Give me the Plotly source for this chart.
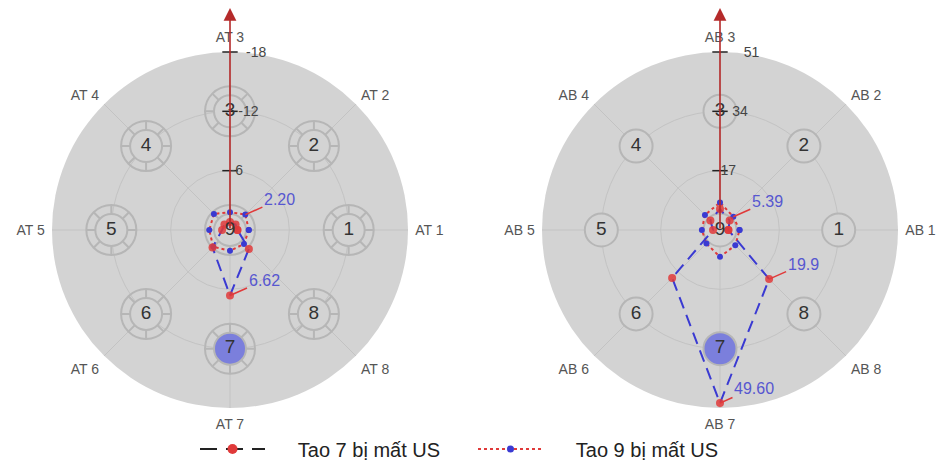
import numpy as np
import plotly.graph_objects as go

# ---------------- data ----------------
cats_left = ["AT 1", "AT 2", "AT 3", "AT 4", "AT 5", "AT 6", "AT 7", "AT 8"]
cats_right = ["AB 1", "AB 2", "AB 3", "AB 4", "AB 5", "AB 6", "AB 7", "AB 8"]

tao7_left = [0.75, 0.8, 0.8, 0.8, 0.8, 2.5, 6.62, 2.7]
tao9_left = [1.9, 2.2, 1.8, 2.3, 2.1, 2.4, 2.1, 2.0]
tao7_right = [2.4, 3.9, 6.0, 3.9, 2.0, 19.4, 49.60, 19.9]
tao9_right = [5.6, 5.39, 7.9, 6.1, 5.2, 5.5, 7.7, 6.2]

ticks_left = [6, 12, 18]
ticktext_left = ["-6", "-12", "-18"]
ticks_right = [17, 34, 51]
ticktext_right = ["17", "34", "51"]

sensor_labels = ["1", "2", "3", "4", "5", "6", "7", "8"]
center_label = "9"
sensor_r_left = 12
sensor_r_right = 34
highlight_sensor = "7"

# (series, index, text)
labels_left = [("tao9", 1, "2.20"), ("tao7", 6, "6.62")]
labels_right = [("tao9", 1, "5.39"), ("tao7", 7, "19.9"), ("tao7", 6, "49.60")]

series_names = ["Tao 7 bị mất US", "Tao 9 bị mất US"]

# ---------------- styles ----------------
FONT = "Liberation Sans, Arial, sans-serif"
BG = "#d3d3d3"
GRID = "#c3c3c3"
RING = "#b6b6b6"
HILITE = "#7b7fdc"
RED = "#e03a3a"
BLUE = "#3a3ad2"
LABEL_BLUE = "#5757d0"
ARROW = "#b52a2a"

W, H = 937, 460
R_PX = 178
centers = [(230, 230), (720, 230)]
# extra horizontal offset (in spaces) of each radial tick label from the axis
tick_pad_left = [0, 2, 4]
tick_pad_right = [0, 3, 6]


def domain(cx, cy):
    return dict(x=[(cx - R_PX) / W, (cx + R_PX) / W],
                y=[(H - cy - R_PX) / H, (H - cy + R_PX) / H])


fig = go.Figure()


def add_sensors(sub, cats, r, double):
    thetas = cats + [cats[0]]
    rs = [r] * len(cats) + [0]
    labels = sensor_labels + [center_label]
    fills = [HILITE if l == highlight_sensor else BG for l in labels]
    if double:
        fig.add_trace(go.Scatterpolar(
            r=rs, theta=thetas, mode="markers", subplot=sub, showlegend=False,
            hoverinfo="skip",
            marker=dict(symbol="asterisk-open", size=41, color=RING,
                        line=dict(color=RING, width=2))))
        fig.add_trace(go.Scatterpolar(
            r=rs, theta=thetas, mode="markers", subplot=sub, showlegend=False,
            hoverinfo="skip",
            marker=dict(symbol="circle-open", size=50, color=RING,
                        line=dict(color=RING, width=2))))
    fig.add_trace(go.Scatterpolar(
        r=rs, theta=thetas, mode="markers", subplot=sub, showlegend=False,
        hoverinfo="skip",
        marker=dict(symbol="circle", size=32 if double else 33, color=fills,
                    line=dict(color=RING, width=2))))
    return rs, thetas, labels


def add_series(sub, cats, v7, v9):
    th = cats + [cats[0]]
    fig.add_trace(go.Scatterpolar(
        r=v9 + [v9[0]], theta=th, mode="lines+markers", subplot=sub,
        showlegend=False, name=series_names[1],
        line=dict(color=RED, width=2, dash="dot"),
        marker=dict(color=BLUE, size=6)))
    fig.add_trace(go.Scatterpolar(
        r=v7 + [v7[0]], theta=th, mode="lines+markers", subplot=sub,
        showlegend=False, name=series_names[0],
        line=dict(color=BLUE, width=2, dash="12px,7px"),
        marker=dict(color=RED, size=8, opacity=0.85)))


def add_ticks(sub, cats, tv):
    fig.add_trace(go.Scatterpolar(
        r=tv, theta=[cats[2]] * len(tv), mode="markers", subplot=sub,
        showlegend=False, hoverinfo="skip",
        marker=dict(symbol="line-ew", size=11, color="#222",
                    line=dict(color="#222", width=1.5))))


for sub, cats, r, dbl, v7, v9, tv in [
        ("polar", cats_left, sensor_r_left, True, tao7_left, tao9_left, ticks_left),
        ("polar2", cats_right, sensor_r_right, False, tao7_right, tao9_right, ticks_right)]:
    rs, th, lab = add_sensors(sub, cats, r, dbl)
    add_series(sub, cats, v7, v9)
    add_ticks(sub, cats, tv)
    fig.add_trace(go.Scatterpolar(
        r=rs, theta=th, mode="text", text=lab, subplot=sub, showlegend=False,
        hoverinfo="skip", textfont=dict(size=19, color="#333", family=FONT)))

# legend entries
NB = "\u00a0" * 5
fig.add_trace(go.Scatterpolar(
    r=[None], theta=[cats_left[0]], mode="lines+markers", name=NB + series_names[0],
    subplot="polar", line=dict(color="#222", width=2, dash="17px,9px"),
    marker=dict(color=RED, size=10)))
fig.add_trace(go.Scatterpolar(
    r=[None], theta=[cats_left[0]], mode="lines+markers", name=NB + series_names[1],
    subplot="polar", line=dict(color=RED, width=2, dash="dot"),
    marker=dict(color=BLUE, size=7)))

# invisible cartesian overlays for value labels
for ax_i in (1, 2):
    fig.add_trace(go.Scatter(x=[0], y=[0], mode="markers", opacity=0,
                             showlegend=False, hoverinfo="skip",
                             xaxis="x" if ax_i == 1 else "x2",
                             yaxis="y" if ax_i == 1 else "y2"))

annotations = []
for (xr, yr, labs, v7, v9) in [("x", "y", labels_left, tao7_left, tao9_left),
                               ("x2", "y2", labels_right, tao7_right, tao9_right)]:
    for s, i, t in labs:
        val = (v7 if s == "tao7" else v9)[i]
        ang = np.deg2rad(45 * i)
        annotations.append(dict(
            x=val * np.cos(ang), y=val * np.sin(ang), xref=xr, yref=yr,
            text=t, showarrow=True, arrowhead=0, arrowcolor=RED, arrowwidth=1.6,
            ax=34, ay=-15, standoff=0,
            font=dict(size=16, color=LABEL_BLUE, family=FONT)))

# vertical arrows
for cx, cy in centers:
    annotations.append(dict(
        x=cx / W, y=(H - 8) / H, xref="paper", yref="paper", text="",
        showarrow=True, arrowhead=2, arrowsize=1.6, arrowwidth=1.6,
        arrowcolor=ARROW, ax=0, ay=cy - 8, axref="pixel", ayref="pixel",
        standoff=0))


def polar_layout(cx, cy, cats, tv, tt, pads, rmax):
    tt_padded = ["\u00a0" * p + t for p, t in zip(pads, tt)]
    return dict(
        domain=domain(cx, cy), bgcolor=BG,
        angularaxis=dict(type="category", categoryarray=cats, direction="counterclockwise",
                         rotation=0, showline=False, gridcolor=GRID, gridwidth=1,
                         ticks="outside", ticklen=4, tickcolor="rgba(0,0,0,0)",
                         tickfont=dict(size=14, color="#555", family=FONT)),
        radialaxis=dict(range=[0, rmax], angle=90, tickangle=90, showline=False,
                        gridcolor=GRID, gridwidth=1, ticks="", tickvals=tv,
                        ticktext=tt_padded,
                        tickfont=dict(size=14, color="#444", family=FONT)))


dl = domain(*centers[0])
dr = domain(*centers[1])
fig.update_layout(
    width=W, height=H, autosize=False,
    margin=dict(l=0, r=0, t=0, b=0, autoexpand=False),
    paper_bgcolor="white", plot_bgcolor="rgba(0,0,0,0)",
    font=dict(family=FONT),
    polar=polar_layout(*centers[0], cats_left, ticks_left, ticktext_left, tick_pad_left, 18),
    polar2=polar_layout(*centers[1], cats_right, ticks_right, ticktext_right, tick_pad_right, 51),
    xaxis=dict(domain=dl["x"], range=[-18, 18], visible=False, fixedrange=True),
    yaxis=dict(domain=dl["y"], range=[-18, 18], visible=False, fixedrange=True),
    xaxis2=dict(domain=dr["x"], range=[-51, 51], visible=False, fixedrange=True, anchor="y2"),
    yaxis2=dict(domain=dr["y"], range=[-51, 51], visible=False, fixedrange=True, anchor="x2"),
    annotations=annotations,
    showlegend=True,
    legend=dict(orientation="h", x=195 / W, y=(H - 449) / H, xanchor="left", yanchor="middle",
                itemwidth=65, entrywidth=198, font=dict(size=20, color="#222", family=FONT),
                bgcolor="rgba(0,0,0,0)"),
)

fig.write_html("out.html", config={"displayModeBar": False},
               post_script="document.body.style.margin='0';document.body.style.overflow='hidden';")
